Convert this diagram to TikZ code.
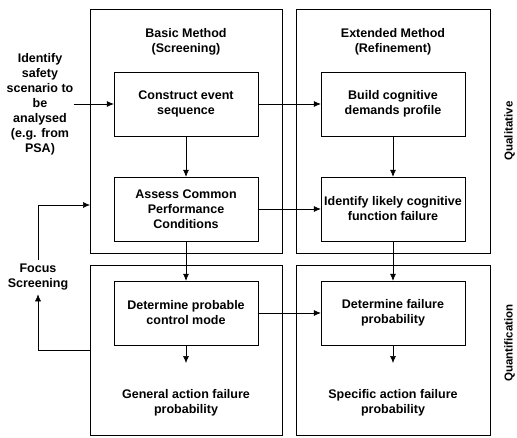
\documentclass[tikz,border=0pt]{standalone}
\usepackage{fontspec}
\setmainfont{Liberation Sans}
\usetikzlibrary{arrows.meta}

\begin{document}
\begin{tikzpicture}[
  x=1pt, y=-1pt,
  font=\fontsize{12.5}{15}\selectfont\bfseries,
  panel/.style={draw, minimum width=192pt, minimum height=#1, inner sep=0pt},
  box/.style={draw, minimum width=144pt, minimum height=64pt, align=center, inner sep=0pt},
  lab/.style={align=center, inner sep=0pt},
  side/.style={rotate=90, anchor=north, inner sep=0pt, font=\fontsize{11.5}{14}\selectfont\bfseries},
  e/.style={-{Latex[length=7pt, width=6pt]}, line width=0.6pt}
]
\useasboundingbox (0,0) rectangle (517,437);

% panels
\node[panel=244pt] (bq) at (186,131) {};
\node[panel=244pt, minimum width=194pt] (eq) at (393,131) {};
\node[panel=170pt] (bn) at (186,350) {};
\node[panel=170pt, minimum width=194pt] (en) at (393,350) {};

\node[lab] (bt) at (186,42) {Basic Method\\(Screening)};
\node[lab] (et) at (393,42) {Extended Method\\(Refinement)};

% boxes
\node[box] (ces) at (186,104) {Construct event\\sequence};
\node[box] (cpc) at (186,209) {Assess Common\\Performance\\Conditions};
\node[box] (dcm) at (186,313) {Determine probable\\control mode};
\node[box] (cdp) at (393,104) {Build cognitive\\demands profile};
\node[box] (cff) at (393,209) {Identify likely cognitive\\function failure};
\node[box] (dfp) at (393,313) {Determine failure\\probability};

\node[lab] (gap) at (186,403) {General action failure\\probability};
\node[lab] (sap) at (393,403) {Specific action failure\\probability};

\node[lab] (id) at (40,104) {Identify\\safety\\scenario to\\be\\analysed\\(e.g. from\\PSA)};
\node[lab, inner sep=4pt] (fs) at (38,277) {Focus\\Screening};

\node[side] (ql) at (504,131) {Qualitative};
\node[side] (qn) at (504,343) {Quantification};

\coordinate (gend) at (186,363);
\coordinate (send) at (393,363);
\coordinate (fout) at (90,350);
\coordinate (fin) at (90,205);

\draw[e] (id.east) -- (ces);
\draw[e] (ces) -- (cdp);
\draw[e] (ces) -- (cpc);
\draw[e] (cdp) -- (cff);
\draw[e] (cpc) -- (cff);
\draw[e] (cpc) -- (dcm);
\draw[e] (cff) -- (dfp);
\draw[e] (dcm) -- (dfp);
\draw[e] (dcm) -- (gend);
\draw[e] (dfp) -- (send);
\draw[e] (fout) -| (fs.south);
\draw[e] (fs.north) |- (fin);
\end{tikzpicture}
\end{document}
